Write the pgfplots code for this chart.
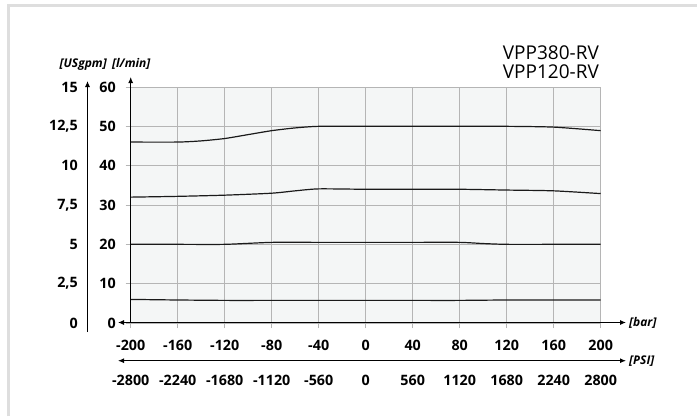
\documentclass[border=0pt]{standalone}
\usepackage{fontspec}
\setmainfont{Open Sans}
\usepackage{pgfplots}
\pgfplotsset{compat=1.18}
\usetikzlibrary{arrows.meta}
\definecolor{gridgray}{HTML}{B5B5B5}
\definecolor{bgfill}{HTML}{F4F6F6}
\definecolor{framegray}{HTML}{DEDEDE}
\definecolor{curve}{HTML}{1A1A1A}
\begin{document}
\begin{tikzpicture}[x=1bp,y=1bp]
\useasboundingbox (0,0) rectangle (697,416);
\fill[white] (0,0) rectangle (697,416);
\draw[framegray, line width=3bp] (8.5,0) -- (8.5,410) -- (697,410);
% main axis: bar vs l/min
\begin{axis}[
  at={(130.7bp,93bp)}, anchor=south west, scale only axis,
  width=470bp, height=236bp,
  xmin=-200, xmax=200, ymin=0, ymax=60,
  xtick={-200,-160,...,200}, ytick={0,10,...,60},
  xticklabels={-200,-160,-120,-80,-40,0,40,80,120,160,200},
  yticklabels={0,10,20,30,40,50,60},
  xtick pos=bottom, ytick pos=left,
  grid=major, major grid style={color=gridgray, line width=0.8bp},
  axis line style={draw=none},
  tick align=outside, major tick length=5bp,
  tick style={color=gridgray, line width=0.8bp},
  axis background/.style={fill=bgfill},
  tick label style={font=\bfseries\fontsize{14.3bp}{14.3bp}\selectfont, inner sep=0pt},
  yticklabel style={anchor=east, xshift=-9.7bp},
  xticklabel style={anchor=center, yshift=-17bp},
  clip=false,
]
\draw[gridgray, line width=0.8bp] (rel axis cs:0,1) -- (rel axis cs:1,1) -- (rel axis cs:1,0);
\addplot[curve, line width=1.2bp, smooth, tension=0.4] coordinates {
  (-200,46.0) (-160,46.0) (-140,46.3) (-120,46.9) (-100,47.9) (-80,48.9) (-60,49.6) (-40,50.0) (0,50.0) (40,50.0) (80,50.0) (120,50.0) (160,49.8) (200,48.9)};
\addplot[curve, line width=1.2bp, smooth, tension=0.4] coordinates {
  (-200,32.0) (-160,32.2) (-120,32.5) (-80,33.0) (-60,33.6) (-40,34.1) (0,34.0) (40,34.0) (80,34.0) (120,33.8) (160,33.6) (200,32.9)};
\addplot[curve, line width=1.2bp, smooth, tension=0.4] coordinates {
  (-200,20.0) (-160,20.0) (-120,20.0) (-80,20.5) (-40,20.5) (0,20.5) (40,20.5) (80,20.5) (100,20.2) (120,20.0) (160,20.0) (200,20.0)};
\addplot[curve, line width=1.2bp, smooth, tension=0.4] coordinates {
  (-200,6.0) (-160,5.85) (-120,5.75) (-80,5.75) (-40,5.75) (0,5.75) (40,5.75) (80,5.75) (120,5.85) (160,5.85) (200,5.85)};
\end{axis}
% USgpm axis labels
\begin{axis}[
  at={(130.7bp,93bp)}, anchor=south west, scale only axis,
  width=470bp, height=236bp,
  xmin=-200, xmax=200, ymin=0, ymax=15,
  xtick=\empty, ytick={0,2.5,5,7.5,10,12.5,15},
  yticklabels={0,{2,5},5,{7,5},10,{12,5},15},
  ytick pos=left, axis line style={draw=none},
  major tick length=0pt, tick style={draw=none},
  tick label style={font=\bfseries\fontsize{14.3bp}{14.3bp}\selectfont, inner sep=0pt},
  yticklabel style={anchor=east, xshift=-52.7bp},
]
\end{axis}
% PSI axis labels
\begin{axis}[
  at={(130.7bp,93bp)}, anchor=south west, scale only axis,
  width=470bp, height=236bp,
  xmin=-2800, xmax=2800, ymin=0, ymax=60,
  ytick=\empty, xtick={-2800,-2240,-1680,-1120,-560,0,560,1120,1680,2240,2800},
  xticklabels={-2800,-2240,-1680,-1120,-560,0,560,1120,1680,2240,2800},
  xtick pos=bottom, axis line style={draw=none},
  major tick length=0pt, tick style={draw=none},
  tick label style={font=\bfseries\fontsize{14.3bp}{14.3bp}\selectfont, inner sep=0pt},
  xticklabel style={anchor=center, yshift=-57bp},
]
\end{axis}
% axis lines with arrows
\draw[black, line width=1bp, {Latex[length=6bp,width=5bp]}-{Latex[length=6bp,width=5bp]}] (118,93.5) -- (626,93.5);
\draw[black, line width=1bp, {Latex[length=6bp,width=5bp]}-{Latex[length=6bp,width=5bp]}] (118,55.3) -- (626,55.3);
\draw[black, line width=1bp, -{Latex[length=6bp,width=5bp]}] (130.7,93) -- (130.7,339);
\draw[black, line width=1bp, -{Latex[length=6bp,width=5bp]}] (87.5,84) -- (87.5,335);
% unit labels
\node[anchor=west, inner sep=0pt, font=\bfseries\itshape\fontsize{12bp}{12bp}\selectfont] at (629,93.5) {[bar]};
\node[anchor=west, inner sep=0pt, font=\bfseries\itshape\fontsize{12bp}{12bp}\selectfont] at (629,55.3) {[PSI]};
\node[anchor=base east, inner sep=0pt, font=\bfseries\itshape\fontsize{12bp}{12bp}\selectfont] at (107,349) {[USgpm]};
\node[anchor=base west, inner sep=0pt, font=\bfseries\itshape\fontsize{12bp}{12bp}\selectfont] at (112,349) {[l/min]};
% title
\node[anchor=base east, inner sep=0pt, font=\fontsize{19bp}{19bp}\selectfont] at (599,357) {VPP380-RV};
\node[anchor=base east, inner sep=0pt, font=\fontsize{19bp}{19bp}\selectfont] at (599,338) {VPP120-RV};
\end{tikzpicture}
\end{document}
